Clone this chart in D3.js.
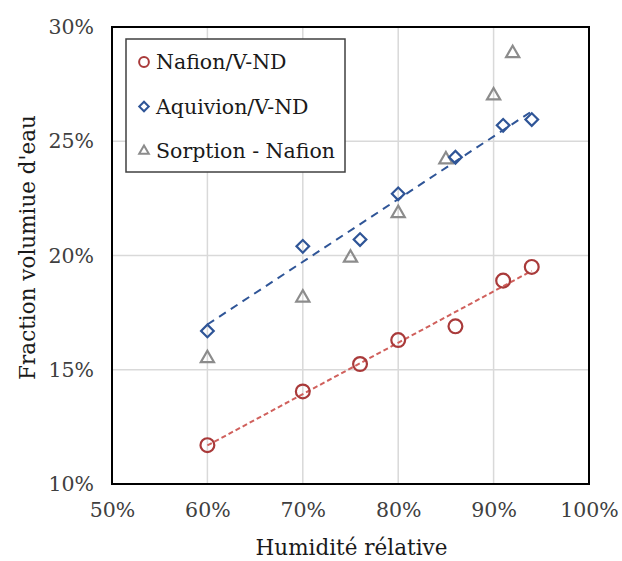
<!DOCTYPE html>
<html><head><meta charset="utf-8">
<script src="https://cdn.jsdelivr.net/npm/d3@7"></script>
<style>html,body{margin:0;padding:0;background:#fff;} svg{display:block;}</style>
</head><body>
<svg id="c" width="622" height="561"></svg>
<script>
const xTicks = [0.5, 0.6, 0.7, 0.8, 0.9, 1.0];
const yTicks = [0.10, 0.15, 0.20, 0.25, 0.30];
const seriesNames = ["Nafion/V-ND", "Aquivion/V-ND", "Sorption - Nafion"];
const nafionRH = [0.60, 0.70, 0.76, 0.80, 0.86, 0.91, 0.94];
const nafionVal = [0.117, 0.1405, 0.1525, 0.163, 0.169, 0.189, 0.195];
const aquivionRH = [0.60, 0.70, 0.76, 0.80, 0.86, 0.91, 0.94];
const aquivionVal = [0.167, 0.204, 0.207, 0.227, 0.243, 0.257, 0.2595];
const sorptionRH = [0.60, 0.70, 0.75, 0.80, 0.85, 0.90, 0.92];
const sorptionVal = [0.155, 0.1815, 0.199, 0.2185, 0.242, 0.270, 0.2885];

const svg = d3.select("#c");
const L = 112, R = 589, T = 27, B = 484;
const x = d3.scaleLinear().domain([0.5, 1.0]).range([L, R]);
const y = d3.scaleLinear().domain([0.10, 0.30]).range([B, T]);
const font = "'DejaVu Serif', serif";
const pct = d3.format(".0%");

// gridlines
svg.append("g").selectAll("line.vx").data(xTicks.slice(1, -1)).join("line")
  .attr("x1", d => x(d)).attr("x2", d => x(d)).attr("y1", T).attr("y2", B)
  .attr("stroke", "#d9d9d9").attr("stroke-width", 1.5);
svg.append("g").selectAll("line.hy").data(yTicks.slice(1, -1)).join("line")
  .attr("y1", d => y(d)).attr("y2", d => y(d)).attr("x1", L).attr("x2", R)
  .attr("stroke", "#d9d9d9").attr("stroke-width", 1.5);

// axes (labels only)
const xAxis = svg.append("g").attr("transform", `translate(0,${B})`)
  .call(d3.axisBottom(x).tickValues(xTicks).tickFormat(pct).tickSize(0).tickPadding(18));
const yAxis = svg.append("g").attr("transform", `translate(${L},0)`)
  .call(d3.axisLeft(y).tickValues(yTicks).tickFormat(pct).tickSize(0).tickPadding(18));
[xAxis, yAxis].forEach(a => {
  a.select(".domain").remove();
  a.selectAll("text").attr("font-family", font).attr("font-size", 20.5).attr("fill", "#404040");
});

// trend lines (least squares)
function fit(xs, ys) {
  const n = xs.length, mx = d3.mean(xs), my = d3.mean(ys);
  let num = 0, den = 0;
  for (let i = 0; i < n; i++) { num += (xs[i]-mx)*(ys[i]-my); den += (xs[i]-mx)**2; }
  const b = num/den, a = my - b*mx;
  return [[d3.min(xs), a + b*d3.min(xs)], [d3.max(xs), a + b*d3.max(xs)]];
}
const line = d3.line().x(d => x(d[0])).y(d => y(d[1]));
svg.append("path").attr("d", line(fit(nafionRH, nafionVal))).attr("fill", "none")
  .attr("stroke", "#d0605c").attr("stroke-width", 2).attr("stroke-dasharray", "5,3");
svg.append("path").attr("d", line(fit(aquivionRH, aquivionVal))).attr("fill", "none")
  .attr("stroke", "#2f5597").attr("stroke-width", 2).attr("stroke-dasharray", "8,6");

// markers
const sym = {
  circle: d3.symbol().type(d3.symbolCircle).size(150),
  diamond: d3.symbol().type(d3.symbolSquare).size(80),
  triangle: d3.symbol().type(d3.symbolTriangle).size(75)
};
function drawPoints(xs, ys, kind, color, rot) {
  svg.append("g").selectAll("path").data(xs.map((v, i) => [v, ys[i]])).join("path")
    .attr("d", sym[kind]())
    .attr("transform", d => `translate(${x(d[0])},${y(d[1])}) rotate(${rot})`)
    .attr("fill", "none").attr("stroke", color).attr("stroke-width", 2.2);
}
drawPoints(sorptionRH, sorptionVal, "triangle", "#8c8c8c", 0);
drawPoints(nafionRH, nafionVal, "circle", "#a93a3a", 0);
drawPoints(aquivionRH, aquivionVal, "diamond", "#2f5597", 45);

// frame
svg.append("rect").attr("x", L).attr("y", T).attr("width", R - L).attr("height", B - T)
  .attr("fill", "none").attr("stroke", "#000").attr("stroke-width", 2);

// legend
const lg = svg.append("g");
lg.append("rect").attr("x", 126).attr("y", 39).attr("width", 219).attr("height", 133)
  .attr("fill", "#fff").attr("stroke", "#404040").attr("stroke-width", 1.5);
const legendSpec = [
  {type: d3.symbolCircle, color: "#a93a3a", rot: 0, size: 75},
  {type: d3.symbolSquare, color: "#2f5597", rot: 45, size: 45},
  {type: d3.symbolTriangle, color: "#8c8c8c", rot: 0, size: 40}
];
seriesNames.forEach((name, i) => {
  const cy = 62 + i * 44.5;
  const s = legendSpec[i];
  lg.append("path").attr("d", d3.symbol().type(s.type).size(s.size)())
    .attr("transform", `translate(144,${cy}) rotate(${s.rot})`)
    .attr("fill", "none").attr("stroke", s.color).attr("stroke-width", 2);
  lg.append("text").attr("x", 156).attr("y", cy).attr("dy", "0.35em")
    .attr("font-family", font).attr("font-size", 20.5).attr("fill", "#1a1a1a").text(name);
});

// axis titles
svg.append("text").attr("x", (L + R) / 2 + 1).attr("y", 547).attr("dy", "0.35em")
  .attr("text-anchor", "middle").attr("font-family", font).attr("font-size", 21.5)
  .attr("fill", "#1a1a1a").text("Humidité rélative");
svg.append("text").attr("transform", `translate(27,${(T + B) / 2 - 8}) rotate(-90)`)
  .attr("dy", "0.35em").attr("text-anchor", "middle").attr("font-family", font).attr("font-size", 21.5)
  .attr("fill", "#1a1a1a").text("Fraction volumiue d'eau");
</script>
</body></html>
